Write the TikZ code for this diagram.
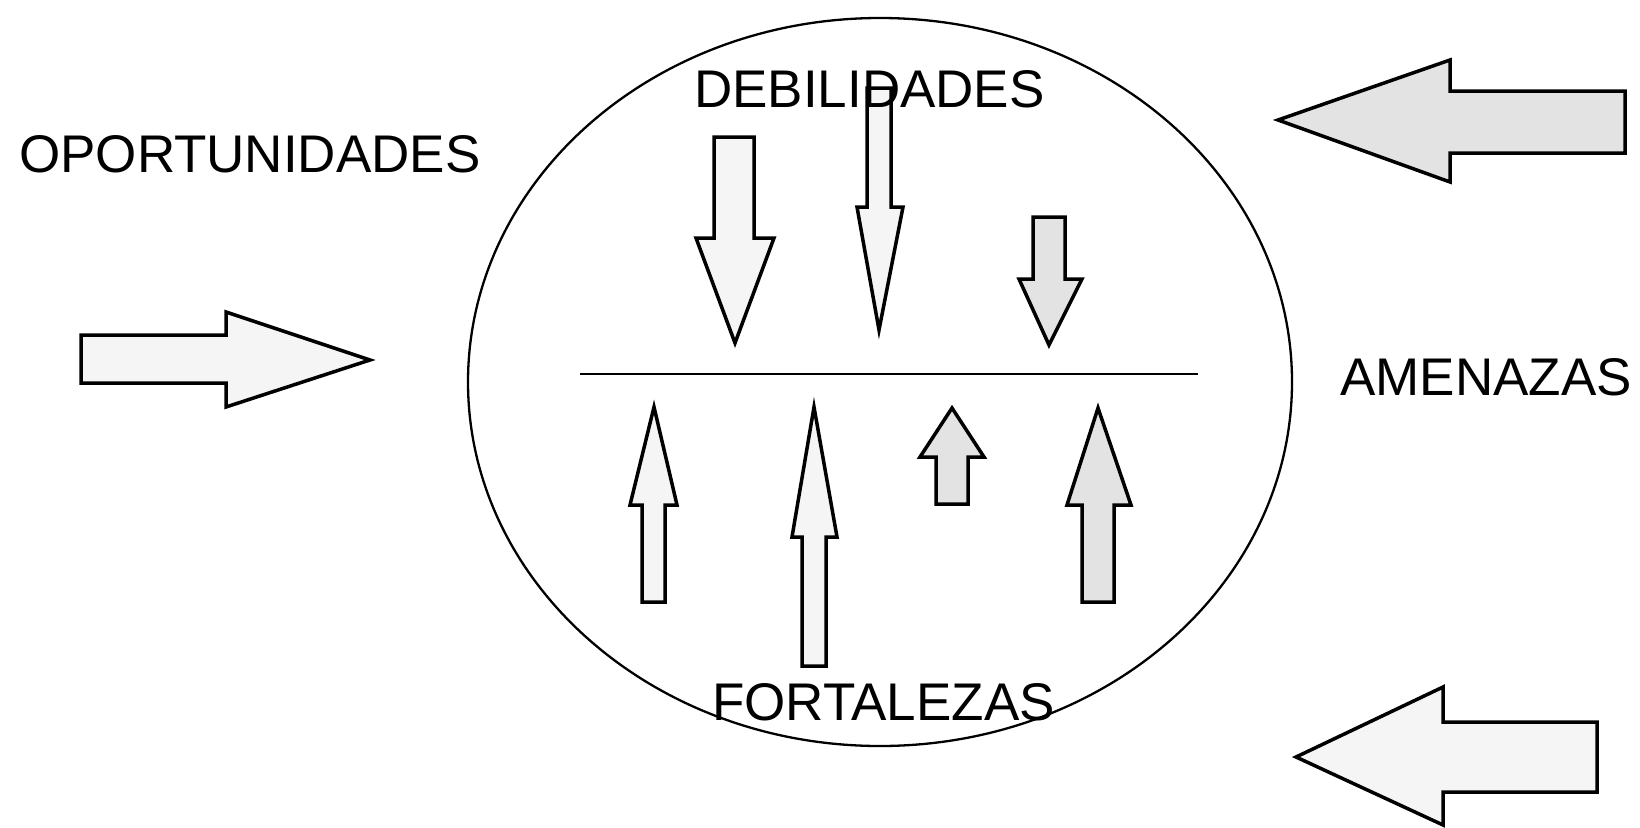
\documentclass[tikz,border=0pt]{standalone}
\usepackage{fontspec}
\setmainfont{Liberation Sans}
\begin{document}
\begin{tikzpicture}[x=1pt,y=-1pt,
  blockarrow/.style={draw=black,line width=3.5pt,line join=miter,fill=black!4},
  densearrow/.style={blockarrow,fill=black!11},
  label/.style={inner sep=0pt,anchor=base west,font=\fontsize{53}{60}\selectfont}]
\useasboundingbox (0,0) rectangle (1640,827);
% circle
\draw[line width=2.3pt] (880,382) ellipse [x radius=412pt, y radius=364pt];
\coordinate (lineL) at (580,374);
\coordinate (lineR) at (1198,374);
\draw[line width=2.3pt] (lineL) -- (lineR);
% outer arrows
\draw[blockarrow] (81,335) -- (226,335) -- (226,312) -- (370,360) -- (226,407) -- (226,383) -- (81,383) -- cycle;
\draw[densearrow] (1625,91) -- (1450,91) -- (1450,60) -- (1278,120) -- (1450,182) -- (1450,153) -- (1625,153) -- cycle;
\draw[blockarrow] (1597,722) -- (1443,722) -- (1443,687) -- (1296,757) -- (1443,825) -- (1443,792) -- (1597,792) -- cycle;
% down arrows
\draw[blockarrow] (714,137) -- (754,137) -- (754,238) -- (774,238) -- (735,343) -- (696,238) -- (714,238) -- cycle;
\draw[blockarrow] (867,88) -- (891,88) -- (891,207) -- (903,207) -- (879,330) -- (857,207) -- (867,207) -- cycle;
\draw[densearrow] (1033,217) -- (1065,217) -- (1065,279) -- (1082,279) -- (1049,345) -- (1019,279) -- (1033,279) -- cycle;
% up arrows
\draw[blockarrow] (642,602) -- (665,602) -- (665,505) -- (677,505) -- (654,407) -- (630,505) -- (642,505) -- cycle;
\draw[blockarrow] (802,666) -- (826,666) -- (826,537) -- (837,537) -- (814,407) -- (792,537) -- (802,537) -- cycle;
\draw[densearrow] (936,504) -- (968,504) -- (968,457) -- (984,457) -- (952,408) -- (920,457) -- (936,457) -- cycle;
\draw[densearrow] (1082,602) -- (1114,602) -- (1114,505) -- (1131,505) -- (1098,408) -- (1067,505) -- (1082,505) -- cycle;
% labels
\node[label] (oport) at (19,172) {OPORTUNIDADES};
\node[label] (debil) at (694,107) {DEBILIDADES};
\node[label] (amen) at (1340,395) {AMENAZAS};
\node[label] (fort) at (712,720) {FORTALEZAS};
\end{tikzpicture}
\end{document}
